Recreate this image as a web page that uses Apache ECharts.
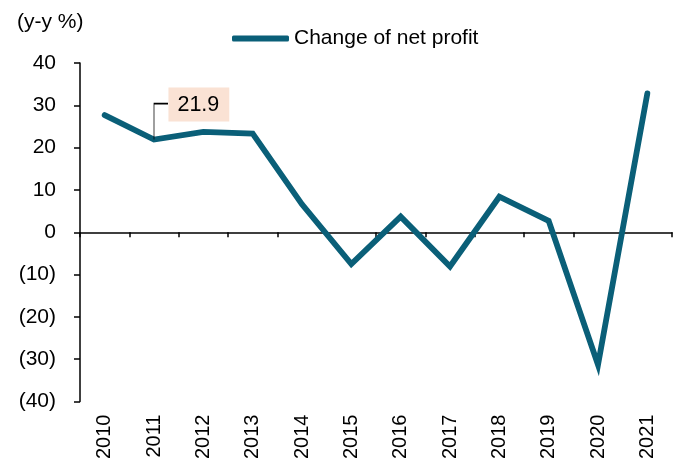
<!DOCTYPE html>
<html>
<head>
<meta charset="utf-8">
<script src="https://cdn.jsdelivr.net/npm/echarts@6/dist/echarts.min.js"></script>
<style>
  html, body { margin: 0; padding: 0; background: #fff; }
  #chart { width: 680px; height: 462px; }
</style>
</head>
<body>
<div id="chart"></div>
<script>
const years = ['2010', '2011', '2012', '2013', '2014', '2015', '2016', '2017', '2018', '2019', '2020', '2021']
const netProfitChange = [27.7, 21.9, 23.7, 23.3, 6.6, -7.5, 3.7, -8.1, 8.4, 2.7, -31.3, 32.8]
const seriesName = 'Change of net profit'
// the one point that carries a call-out box
const calloutIndex = 1

const font = 'Liberation Sans, Arial, sans-serif'
const lineColor = '#0a5f78'

const chart = echarts.init(document.getElementById('chart'))

const option = {
  backgroundColor: '#fff',
  animation: false,
  textStyle: { fontFamily: font },
  title: {
    text: '(y-y %)',
    left: 12,
    top: 7,
    textStyle: { fontFamily: font, fontSize: 21, fontWeight: 'normal', color: '#000' }
  },
  legend: {
    data: [seriesName],
    left: 227,
    top: 23,
    icon: 'roundRect',
    itemWidth: 57,
    itemHeight: 6,
    itemGap: 5,
    textStyle: { fontFamily: font, fontSize: 21, color: '#000' }
  },
  grid: {
    left: 80,
    right: 8,
    top: 63,
    bottom: 56,
    containLabel: false
  },
  xAxis: [
    {
      // axis line drawn on zero, no labels
      type: 'category',
      data: years,
      boundaryGap: true,
      axisLine: { onZero: true, lineStyle: { color: '#000', width: 1.5 } },
      axisTick: { show: true, inside: false, length: 5, lineStyle: { color: '#000', width: 1.5 } },
      axisLabel: { show: false },
      splitLine: { show: false }
    },
    {
      // labels at the bottom of the plot
      type: 'category',
      data: years,
      position: 'bottom',
      boundaryGap: true,
      axisLine: { show: false, onZero: false },
      axisTick: { show: false },
      axisLabel: {
        rotate: 90,
        margin: 13,
        fontFamily: font,
        fontSize: 20,
        color: '#000',
        interval: 0
      },
      splitLine: { show: false }
    }
  ],
  yAxis: {
    type: 'value',
    min: -40,
    max: 40,
    interval: 10,
    axisLine: { show: true, lineStyle: { color: '#000', width: 1.5 } },
    axisTick: { show: true, length: 6, lineStyle: { color: '#000', width: 1.5 } },
    axisLabel: {
      margin: 24,
      fontFamily: font,
      fontSize: 21,
      color: '#000',
      formatter: v => v < 0 ? '(' + Math.abs(v) + ')' : String(v)
    },
    splitLine: { show: false }
  },
  series: [
    {
      name: seriesName,
      type: 'line',
      xAxisIndex: 0,
      data: netProfitChange,
      symbol: 'none',
      itemStyle: { color: lineColor },
      lineStyle: { color: lineColor, width: 5.8, cap: 'round', join: 'miter' },
      markPoint: {
        symbol: 'path://M0,36L0,0L14,0',
        symbolSize: [14, 36],
        symbolOffset: [7, -18],
        silent: true,
        itemStyle: { color: 'none', borderColor: '#000', borderWidth: 1.2 },
        label: {
          show: true,
          position: [16, -12],
          align: 'left',
          verticalAlign: 'top',
          formatter: p => p.value.toFixed(1),
          fontFamily: font,
          fontSize: 21.5,
          color: '#000',
          backgroundColor: '#fae2d4',
          padding: [6, 10, 6, 9]
        },
        data: [
          { coord: [years[calloutIndex], netProfitChange[calloutIndex]], value: netProfitChange[calloutIndex] }
        ]
      }
    }
  ]
}

chart.setOption(option)
</script>
</body>
</html>
